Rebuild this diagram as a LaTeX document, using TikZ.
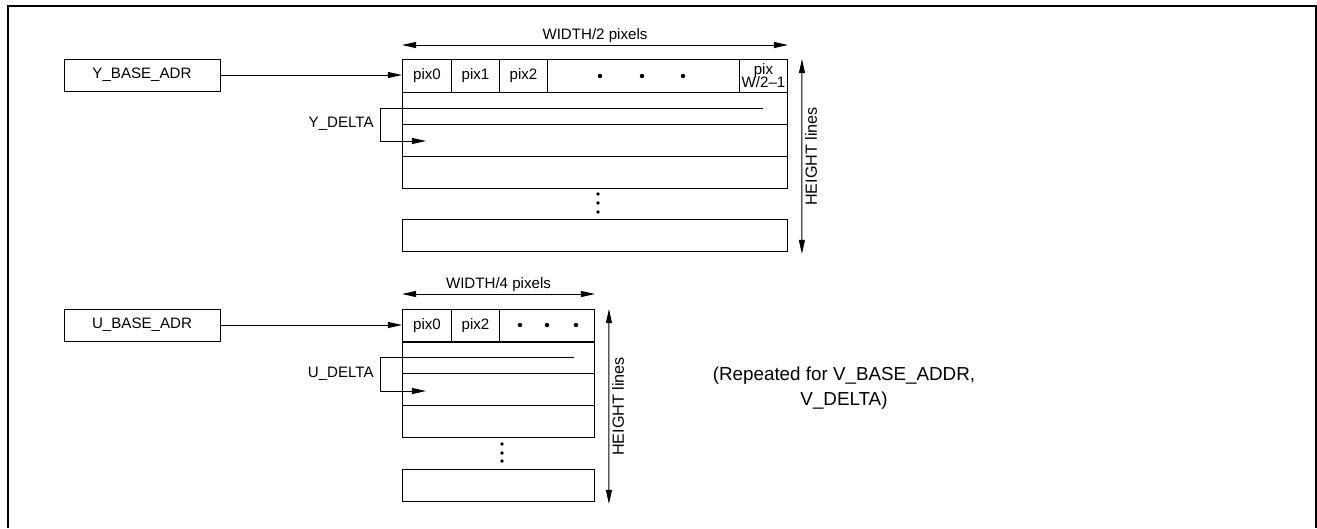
\documentclass[tikz,border=0pt]{standalone}
\usepackage{fontspec}
\setmainfont{Liberation Sans}
\usetikzlibrary{arrows.meta,positioning}
\tikzset{
  regbox/.style={draw,minimum width=3.12cm,minimum height=0.64cm,inner sep=0pt},
  pixcell/.style={draw,anchor=north west,minimum height=0.66cm,inner sep=0pt,align=center},
  linebox/.style={draw,anchor=north west,minimum height=0.64cm,inner sep=0pt},
}

\begin{document}
\begin{tikzpicture}[x=0.02cm,y=-0.02cm,line width=0.55pt,font=\fontsize{8.6}{9}\selectfont,
    >={Triangle[length=8pt,width=3.4pt]}]
  \useasboundingbox (0,0) rectangle (1317,528);
  \draw[line width=1pt] (8,528) |- (1316,6) -- (1316,528);

  % Y plane
  \node[regbox] (ybase) at (142,75) {Y\_BASE\_ADR};
  \foreach \n/\x/\w/\t in {y0/402/49/pix0,y1/451/48/pix1,y2/499/48/pix2,y3/547/192/{},y4/739/48/{pix\\[-1.5pt]W/2–1}}
    \node[pixcell,minimum width=\w*0.02cm] (\n) at (\x,59) {\t};
  \foreach \n/\y in {yr1/92,yr2/124,yr3/156,yr4/219}
    \node[linebox,minimum width=7.7cm] (\n) at (402,\y) {};
  \foreach \x in {600,642,683} \fill (\x,76) circle (2.2);
  \foreach \y in {194,203,212} \fill (598,\y) circle (1.8);
  \draw[->] (ybase.east) -- (ybase.east -| y0.west);
  \draw[<->] ([yshift=0.28cm]y0.north west) -- node[above,inner sep=1pt] (ywidth) {WIDTH/2 pixels} ([yshift=0.28cm]y4.north east);
  \draw[<->] ([xshift=0.28cm]y4.north east) -- node[midway,rotate=90,anchor=north,inner sep=1.5pt,font=\fontsize{9.2}{10}\selectfont] (yheight) {HEIGHT lines} ([xshift=0.28cm,yshift=-0.04cm]yr4.south east);
  \node[anchor=east] (ydelta) at (380,124) {Y\_DELTA};
  \coordinate (ystart) at (763,108);
  \coordinate (ynext) at (426,141);
  \draw[->] (ystart) -- (ystart -| ydelta.east) |- (ynext);

  % U plane
  \node[regbox] (ubase) at (142,325) {U\_BASE\_ADR};
  \foreach \n/\x/\w/\t in {u0/402/49/pix0,u1/451/48/pix2,u2/499/95/{}}
    \node[pixcell,minimum width=\w*0.02cm] (\n) at (\x,309) {\t};
  \foreach \n/\y in {ur1/341,ur2/373,ur3/405,ur4/469}
    \node[linebox,minimum width=3.84cm] (\n) at (402,\y) {};
  \foreach \x in {520,547,576} \fill (\x,325) circle (2.2);
  \foreach \y in {444,453,461} \fill (502,\y) circle (1.8);
  \draw[->] (ubase.east) -- (ubase.east -| u0.west);
  \draw[<->] ([yshift=0.3cm]u0.north west) -- node[above,inner sep=1pt] (uwidth) {WIDTH/4 pixels} ([yshift=0.3cm]u2.north east);
  \draw[<->] ([xshift=0.28cm]u2.north east) -- node[midway,rotate=90,anchor=north,inner sep=1.5pt,font=\fontsize{9.2}{10}\selectfont] (uheight) {HEIGHT lines} ([xshift=0.28cm,yshift=-0.04cm]ur4.south east);
  \node[anchor=east] (udelta) at (380,374) {U\_DELTA};
  \coordinate (ustart) at (574,357);
  \coordinate (unext) at (426,391);
  \draw[->] (ustart) -- (ustart -| udelta.east) |- (unext);

  \node[font=\fontsize{10.7}{14.2}\selectfont,align=center] (vnote) at (844,388) {(Repeated for V\_BASE\_ADDR,\\V\_DELTA)};
\end{tikzpicture}
\end{document}
